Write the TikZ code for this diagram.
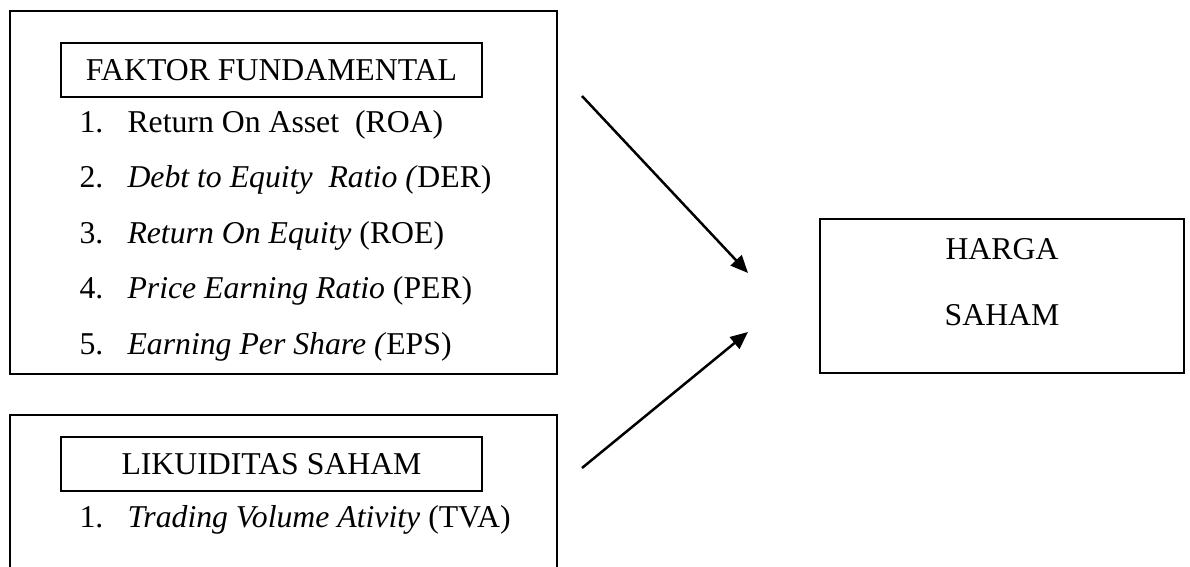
\documentclass[tikz,border=0pt]{standalone}
\usepackage{fontspec}
\setmainfont{Liberation Serif}
\usepackage{tikz}
\usetikzlibrary{arrows.meta}
\def\txt{\fontsize{12.7pt}{15pt}\selectfont}

\begin{document}
\begin{tikzpicture}[x=0.4pt,y=-0.4pt,
	every node/.style={font=\txt,inner sep=0pt},
	frame/.style={draw,line width=0.8pt,rectangle},
	item/.style={anchor=base west},
	arr/.style={line width=1pt,-{Triangle[length=7pt,width=6pt]}}]
					\clip (0,0) rectangle (1190,566);
					\node[frame,minimum width=218.8pt,minimum height=145.2pt] (fund) at (283.5,192.5) {};
					\node[frame,minimum width=218.8pt,minimum height=82pt] (likuid) at (283.5,517.5) {};
					\node[frame,minimum width=168.4pt,minimum height=21.6pt] (fundtitle) at (271.5,70) {FAKTOR FUNDAMENTAL};
					\node[frame,minimum width=168.4pt,minimum height=21.6pt] (likuidtitle) at (271.5,464) {LIKUIDITAS SAHAM};
					\node[frame,minimum width=145.6pt,minimum height=61.6pt] (harga) at (1002,296) {};
					\node[anchor=base] (hargatop) at (1002,259) {HARGA};
					\node[anchor=base] (hargabot) at (1002,325) {SAHAM};
					\node[item] (n1) at (79,132) {1.};
					\node[item] (roa) at (127,132) {Return On Asset\ \ (ROA)};
					\node[item] (n2) at (79,187.5) {2.};
					\node[item] (der) at (127,187.5) {\textit{Debt to Equity\ \ Ratio (}DER)};
					\node[item] (n3) at (79,243) {3.};
					\node[item] (roe) at (127,243) {\textit{Return On Equity} (ROE)};
					\node[item] (n4) at (79,298.5) {4.};
					\node[item] (per) at (127,298.5) {\textit{Price Earning Ratio} (PER)};
					\node[item] (n5) at (79,354) {5.};
					\node[item] (eps) at (127,354) {\textit{Earning Per Share (}EPS)};
					\node[item] (m1) at (79,527) {1.};
					\node[item] (tva) at (127,527) {\textit{Trading Volume Ativity} (TVA)};
					\coordinate (fundout) at (582,96);
					\coordinate (hargain1) at (748,273);
					\coordinate (likuidout) at (582,468);
					\coordinate (hargain2) at (748,332);
					\draw[arr] (fundout)--(hargain1);
					\draw[arr] (likuidout)--(hargain2);
				\end{tikzpicture}
\end{document}
